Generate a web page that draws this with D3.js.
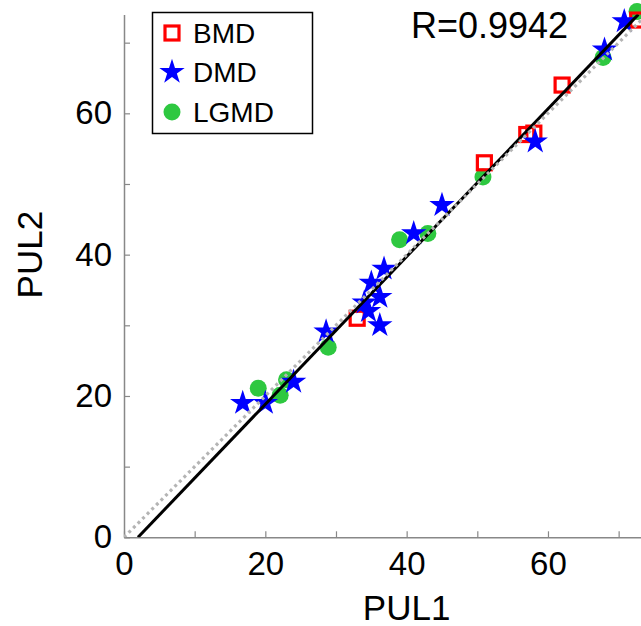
<!DOCTYPE html>
<html>
<head>
<meta charset="utf-8">
<script src="https://cdn.jsdelivr.net/npm/d3@7"></script>
<style>
  body { margin: 0; background: #fff; }
  svg { font-family: "Liberation Sans", Arial, sans-serif; }
</style>
</head>
<body>
<svg id="chart" width="641" height="626"></svg>
<script>
// data
const bmdX = [33, 51, 57, 58, 62, 72.7]
const bmdY = [31, 53, 57, 57.2, 64, 73.2]
const dmdX = [16.8, 20, 24, 28.6, 34, 34.6, 35, 36.2, 36.2, 36.8, 41, 45, 58.2, 68, 70.8]
const dmdY = [19, 19, 22, 29.1, 33.2, 32, 36, 34, 30, 38, 43, 47, 56, 69, 73]
const lgmdX = [19, 22.1, 23, 28.9, 39, 43, 50.8, 67.8, 72.6]
const lgmdY = [21.1, 20.1, 22.3, 26.9, 42.1, 43, 51, 67.9, 74.4]
const fitSlope = 1.045
const fitIntercept = -2.07
const rText = 'R=0.9942'
const xTicks = [0, 10, 20, 30, 40, 50, 60, 70]
const xTickLabels = [0, 20, 40, 60]

const svg = d3.select('#chart')
const mLeft = 124, mBottom = 537.3, mTop = 14.4
const pxPerUnit = (mBottom - mTop) / 74

const x = d3.scaleLinear().domain([0, 74]).range([mLeft, mLeft + 74 * pxPerUnit])
const y = d3.scaleLinear().domain([0, 74]).range([mBottom, mTop])

svg.append('defs').append('clipPath').attr('id', 'plotclip')
  .append('rect')
  .attr('x', mLeft).attr('y', mTop)
  .attr('width', x(74) - mLeft).attr('height', mBottom - mTop)

// axes
const fmt = d => xTickLabels.includes(d) ? d : ''
const xAxis = d3.axisBottom(x).tickValues(xTicks).tickSizeInner(-6).tickSizeOuter(0).tickPadding(14).tickFormat(fmt)
const yAxis = d3.axisLeft(y).tickValues(xTicks).tickSizeInner(-6).tickSizeOuter(0).tickPadding(12).tickFormat(fmt)

const gx = svg.append('g').attr('transform', `translate(0,${mBottom})`).call(xAxis)
const gy = svg.append('g').attr('transform', `translate(${mLeft},0)`).call(yAxis)
for (const g of [gx, gy]) {
  g.select('.domain').attr('stroke', '#888').attr('stroke-width', 1.5)
  g.selectAll('.tick line').attr('stroke', '#888').attr('stroke-width', 1.2)
  g.selectAll('.tick text').attr('font-size', 33).attr('fill', '#000')
    .attr('font-family', '"Liberation Sans", Arial, sans-serif')
}
gx.selectAll('.tick text').attr('dy', '0.71em')

svg.append('text').attr('x', x(40)).attr('y', 620)
  .attr('text-anchor', 'middle').attr('font-size', 35).text('PUL1')
svg.append('text')
  .attr('transform', `translate(42,${y(40)}) rotate(-90)`)
  .attr('text-anchor', 'middle').attr('font-size', 35).text('PUL2')

// markers
const plot = svg.append('g')

plot.selectAll('circle.lgmd').data(d3.range(lgmdX.length)).join('circle')
  .attr('class', 'lgmd')
  .attr('cx', i => x(lgmdX[i])).attr('cy', i => y(lgmdY[i]))
  .attr('r', 8.5).attr('fill', '#2ec840')

plot.selectAll('rect.bmd').data(d3.range(bmdX.length)).join('rect')
  .attr('class', 'bmd')
  .attr('x', i => x(bmdX[i]) - 7).attr('y', i => y(bmdY[i]) - 7)
  .attr('width', 14).attr('height', 14)
  .attr('fill', 'none').attr('stroke', '#f00').attr('stroke-width', 3.2)

const star = d3.symbol(d3.symbolStar, 200)
plot.selectAll('path.dmd').data(d3.range(dmdX.length)).join('path')
  .attr('class', 'dmd')
  .attr('d', star)
  .attr('transform', i => `translate(${x(dmdX[i])},${y(dmdY[i])})`)
  .attr('fill', '#0000ff')

// fit line and identity line
const lines = svg.append('g').attr('clip-path', 'url(#plotclip)')
const fitX0 = -fitIntercept / fitSlope
const fitX1 = (74 - fitIntercept) / fitSlope
lines.append('line')
  .attr('x1', x(fitX0)).attr('y1', y(0))
  .attr('x2', x(fitX1)).attr('y2', y(74))
  .attr('stroke', '#000').attr('stroke-width', 3)
lines.append('line')
  .attr('x1', x(0)).attr('y1', y(0))
  .attr('x2', x(74)).attr('y2', y(74))
  .attr('stroke', '#b4b4b4').attr('stroke-width', 3.2)
  .attr('stroke-dasharray', '3,3.5')

svg.append('text').attr('x', 411).attr('y', 38)
  .attr('font-size', 36).text(rText)

// legend
const legend = svg.append('g')
legend.append('rect')
  .attr('x', 152.5).attr('y', 12.5).attr('width', 160).attr('height', 121)
  .attr('fill', '#fff').attr('stroke', '#000').attr('stroke-width', 1.5)
const legendNames = ['BMD', 'DMD', 'LGMD']
const legendY = [33, 72, 112]
legendNames.forEach((name, i) => {
  const cy = legendY[i]
  if (i === 0) {
    legend.append('rect').attr('x', 165).attr('y', cy - 7).attr('width', 14).attr('height', 14)
      .attr('fill', 'none').attr('stroke', '#f00').attr('stroke-width', 3.2)
  } else if (i === 1) {
    legend.append('path').attr('d', star).attr('transform', `translate(172,${cy})`).attr('fill', '#0000ff')
  } else {
    legend.append('circle').attr('cx', 172).attr('cy', cy).attr('r', 8.5).attr('fill', '#2ec840')
  }
  legend.append('text').attr('x', 193).attr('y', cy).attr('dy', '0.35em')
    .attr('font-size', 28).text(name)
})
</script>
</body>
</html>
